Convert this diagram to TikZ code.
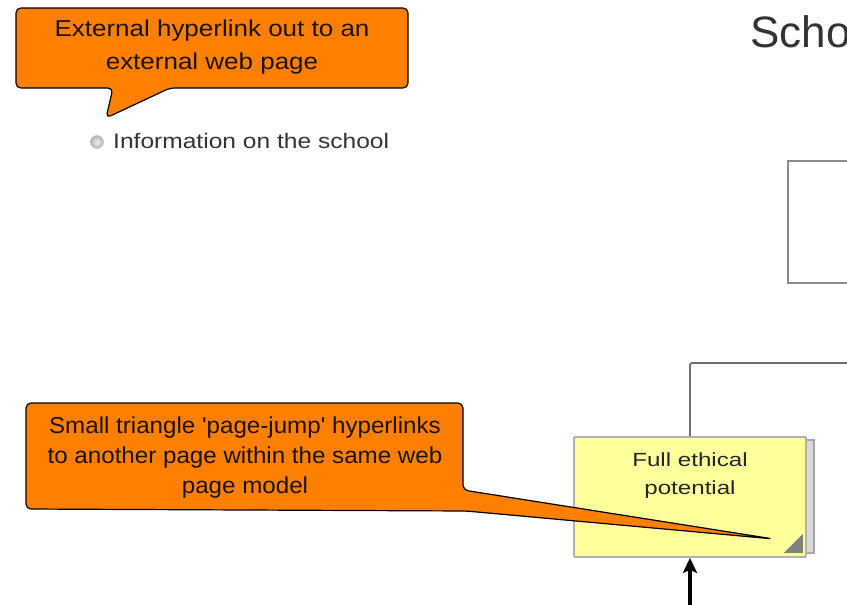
\documentclass[tikz,border=0pt]{standalone}
\usepackage{fontspec}
\setmainfont{Liberation Sans}
% slightly widened faces for the note texts
\newfontfamily\extnotefont[FakeStretch=1.13]{Liberation Sans}
\newfontfamily\jumpnotefont[FakeStretch=1.05]{Liberation Sans}
\newfontfamily\infofont[FakeStretch=1.17]{Liberation Sans}
\newfontfamily\stickyfont[FakeStretch=1.27]{Liberation Sans}
\usetikzlibrary{arrows.meta,calc}

\definecolor{noteorange}{RGB}{255,128,0}
\definecolor{notetextcol}{RGB}{26,20,0}
\definecolor{sticky}{RGB}{255,255,155}
\definecolor{inkgray}{RGB}{51,51,51}
\definecolor{framegray}{RGB}{140,140,140}
\definecolor{linkgray}{RGB}{112,112,112}
\definecolor{cornergray}{RGB}{128,128,128}

\tikzset{
  calloutshape/.style={fill=noteorange, draw=black, line width=1.2pt,
    line join=round, rounded corners=5pt},
  notetext/.style={text=notetextcol, align=center, inner sep=0pt},
  stickybox/.style={draw=gray!60, fill=sticky, line width=1.8pt,
    rounded corners=1pt, minimum width=232pt, minimum height=120pt,
    inner sep=0pt, align=center, text=black!85},
  sheetbehind/.style={fill=gray!30, draw=gray!70, line width=1.4pt},
  framebox/.style={draw=framegray, line width=1.8pt, fill=white,
    minimum width=232pt, minimum height=122pt, inner sep=0pt},
  linkline/.style={draw=linkgray, line width=1.8pt, rounded corners=2pt},
  arrowline/.style={draw=black, line width=3.4pt,
    -{Stealth[length=15pt,width=14pt,inset=3pt]}},
  bulletball/.style={circle, minimum size=13pt, inner sep=0pt,
    shading=radial, inner color=gray!12, outer color=gray!60,
    draw=gray!55, line width=0.4pt},
}

\begin{document}
\begin{tikzpicture}[x=1pt,y=-1pt]
\useasboundingbox (0,0) rectangle (847,605);
\clip (0,0) rectangle (847,605);

% page title and the box beneath it
\node[anchor=base west, inner sep=0pt, text=inkgray,
      font=\fontsize{44}{50}\selectfont] (title) at (750,47) {Scho};
\node[framebox, anchor=north west] (topbox) at (787,160) {};

% sticky note with its page-jump marker
\fill[sheetbehind] (780,440) rectangle (814,553);
\node[stickybox, text height=57pt, text depth=63pt,
      font=\stickyfont\fontsize{19}{28}\selectfont]
  (ethical) at (690,497) {Full ethical\\potential};
\fill[cornergray] ($(ethical.south east)+(-23,-5)$) -- ($(ethical.south east)+(-4,-5)$)
  -- ($(ethical.south east)+(-4,-24)$) -- cycle;

% links to the rest of the model
\coordinate (parentlink) at (880,363);
\draw[linkline] (ethical.north) |- (parentlink);
\coordinate (childlink) at (690,625);
\draw[arrowline] (childlink) -- (ethical.south);

% external link note
\draw[calloutshape] (16,8) -- (408,8) -- (408,88) -- (170,88) -- (106,118)
  -- (113,88) -- (16,88) -- cycle;
\node[notetext, font=\extnotefont\fontsize{23}{33}\selectfont]
  (extnote) at (212,47) {External hyperlink out to an\\external web page};

% hyperlinked item
\node[bulletball] (bullet) at (97,142) {};
\node[anchor=base west, inner sep=0pt, text=inkgray,
      font=\infofont\fontsize{21}{25}\selectfont]
  (info) at (113,148) {Information on the school};

% page-jump note, pointing at the marker
\coordinate (jumptip) at ($(ethical.south east)+(-34,-19)$);
\draw[calloutshape] (26,403) -- (463,403) -- (463,490) -- (jumptip)
  -- (466,511) -- (26,509) -- cycle;
\node[notetext, font=\jumpnotefont\fontsize{23}{30}\selectfont]
  (jumpnote) at (245,458)
  {Small triangle 'page-jump' hyperlinks\\to another page within the same web\\page model};
\end{tikzpicture}
\end{document}
